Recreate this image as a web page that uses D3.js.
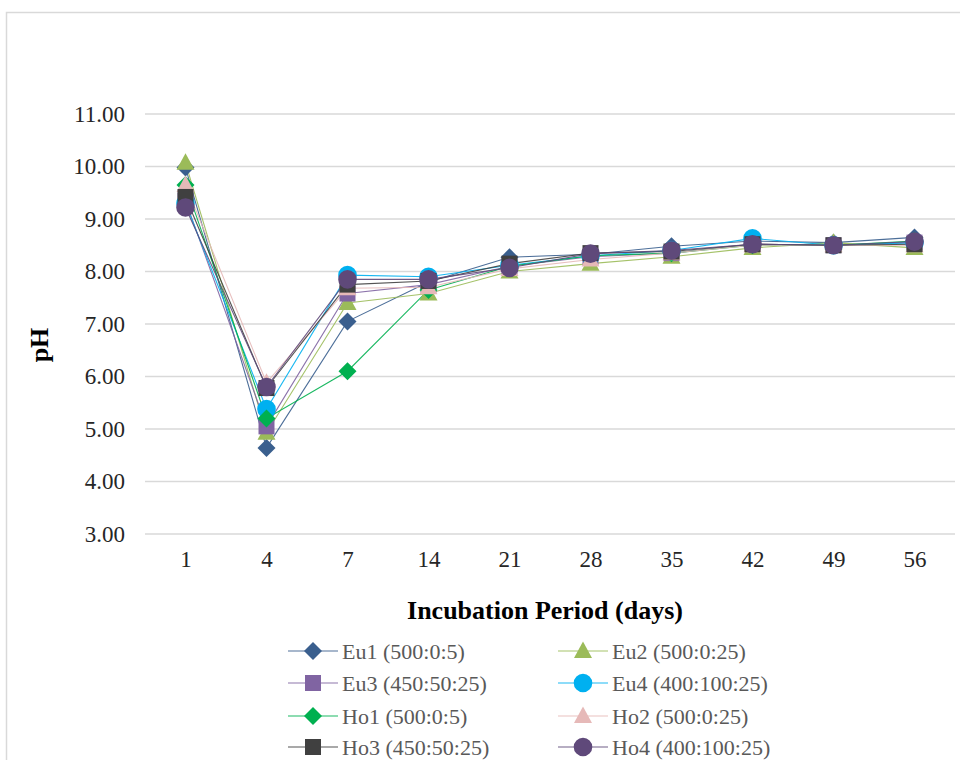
<!DOCTYPE html>
<html>
<head>
<meta charset="utf-8">
<script src="https://cdn.jsdelivr.net/npm/d3@7"></script>
<style>
  html, body { margin: 0; padding: 0; background: #fff; }
  svg { display: block; }
</style>
</head>
<body>
<svg id="chart" width="960" height="760"></svg>
<script>
// Incubation days (category axis)
const days = ["1", "4", "7", "14", "21", "28", "35", "42", "49", "56"];
const yTicks = [3, 4, 5, 6, 7, 8, 9, 10, 11];

// pH per treatment, one value per incubation day
const eu1 = [9.98, 4.64, 7.05, 7.80, 8.27, 8.33, 8.48, 8.58, 8.55, 8.65];
const eu2 = [10.07, 4.93, 7.40, 7.58, 8.00, 8.15, 8.28, 8.45, 8.55, 8.45];
const eu3 = [9.35, 5.05, 7.58, 7.75, 8.10, 8.28, 8.35, 8.52, 8.50, 8.55];
const eu4 = [9.30, 5.38, 7.93, 7.90, 8.12, 8.30, 8.40, 8.63, 8.50, 8.55];
const ho1 = [9.65, 5.20, 6.10, 7.65, 8.10, 8.30, 8.35, 8.50, 8.50, 8.58];
const ho2 = [9.65, 5.88, 7.68, 7.70, 8.05, 8.23, 8.35, 8.50, 8.50, 8.50];
const ho3 = [9.42, 5.78, 7.75, 7.82, 8.15, 8.35, 8.38, 8.52, 8.50, 8.52];
const ho4 = [9.22, 5.80, 7.85, 7.85, 8.07, 8.34, 8.40, 8.52, 8.50, 8.57];

const seriesNames = ["Eu1 (500:0:5)", "Eu2 (500:0:25)", "Eu3 (450:50:25)", "Eu4 (400:100:25)",
                     "Ho1 (500:0:5)", "Ho2 (500:0:25)", "Ho3 (450:50:25)", "Ho4 (400:100:25)"];
const seriesValues = [eu1, eu2, eu3, eu4, ho1, ho2, ho3, ho4];
const seriesColors = ["#3A5F8E", "#9BBB59", "#8064A2", "#00B0F0", "#00B050", "#E6B9B8", "#404040", "#5F497A"];
const seriesShapes = ["diamond", "triangle", "square", "circle", "diamond", "triangle", "square", "circle"];

const series = seriesNames.map((name, i) => ({
  name, values: seriesValues[i], color: seriesColors[i], shape: seriesShapes[i]
}));

const serif = "'Liberation Serif', 'Times New Roman', serif";
const svg = d3.select("#chart");
const plot = { left: 145, right: 955, top: 114, bottom: 534 };

const x = d3.scalePoint().domain(days).range([plot.left, plot.right]).padding(0.5);
const y = d3.scaleLinear().domain([3, 11]).range([plot.bottom, plot.top]);

// Outer chart frame
svg.append("rect")
  .attr("x", 6.5).attr("y", 12.5).attr("width", 980).attr("height", 800)
  .attr("fill", "#fff").attr("stroke", "#d9d9d9").attr("stroke-width", 1.5);

// Horizontal gridlines
svg.append("g")
  .selectAll("line").data(yTicks).join("line")
  .attr("x1", plot.left).attr("x2", plot.right)
  .attr("y1", d => y(d)).attr("y2", d => y(d))
  .attr("stroke", "#d9d9d9").attr("stroke-width", 1.3);

// Y axis labels
const yAxis = svg.append("g").attr("transform", `translate(${plot.left - 20},0)`)
  .call(d3.axisLeft(y).tickValues(yTicks).tickFormat(d3.format(".2f")).tickSize(0).tickPadding(0));
yAxis.select(".domain").remove();
yAxis.selectAll("text")
  .attr("font-family", serif).attr("font-size", 23).attr("fill", "#262626");

// X axis labels
const xAxis = svg.append("g").attr("transform", `translate(0,${plot.bottom})`)
  .call(d3.axisBottom(x).tickSize(0).tickPadding(17));
xAxis.select(".domain").remove();
xAxis.selectAll("text")
  .attr("font-family", serif).attr("font-size", 23).attr("fill", "#262626");

// Axis titles
svg.append("text")
  .attr("x", 545).attr("y", 619).attr("text-anchor", "middle")
  .attr("font-family", serif).attr("font-size", 26).attr("font-weight", "bold").attr("fill", "#000")
  .text("Incubation Period (days)");

svg.append("text")
  .attr("transform", "translate(48,345) rotate(-90)").attr("text-anchor", "middle")
  .attr("font-family", serif).attr("font-size", 26).attr("font-weight", "bold").attr("fill", "#000")
  .text("pH");

// Marker shapes, centred on the origin
function markerPath(shape) {
  switch (shape) {
    case "diamond": return "M0,-9L9,0L0,9L-9,0Z";
    case "triangle": return "M0,-9.5L9,7L-9,7Z";
    case "square": return "M-8,-8H8V8H-8Z";
    default: return d3.symbol(d3.symbolCircle, Math.PI * 9.3 * 9.3)();
  }
}

const line = d3.line().x((d, i) => x(days[i])).y(d => y(d));

// Series lines
svg.append("g")
  .selectAll("path").data(series).join("path")
  .attr("d", d => line(d.values))
  .attr("fill", "none").attr("stroke", d => d.color)
  .attr("stroke-width", 1.1).attr("stroke-opacity", 0.9);

// Series markers
const markers = svg.append("g");
series.forEach(s => {
  markers.append("g")
    .selectAll("path").data(s.values).join("path")
    .attr("transform", (d, i) => `translate(${x(days[i])},${y(d)})`)
    .attr("d", markerPath(s.shape))
    .attr("fill", s.color);
});

// Legend (two columns, four rows)
const legend = svg.append("g");
const colX = [288, 558];
const rowY = [651, 683, 716, 747];
series.forEach((s, i) => {
  const cx = colX[i % 2], cy = rowY[Math.floor(i / 2)];
  const g = legend.append("g").attr("transform", `translate(${cx},${cy})`);
  g.append("line").attr("x1", 0).attr("x2", 50).attr("y1", 0).attr("y2", 0)
    .attr("stroke", s.color).attr("stroke-width", 1.5).attr("stroke-opacity", 0.6);
  g.append("path").attr("transform", "translate(25,0)").attr("d", markerPath(s.shape)).attr("fill", s.color);
  g.append("text").attr("x", 54).attr("y", 0).attr("dy", "0.35em")
    .attr("font-family", serif).attr("font-size", 22).attr("fill", "#595959")
    .text(s.name);
});
</script>
</body>
</html>
